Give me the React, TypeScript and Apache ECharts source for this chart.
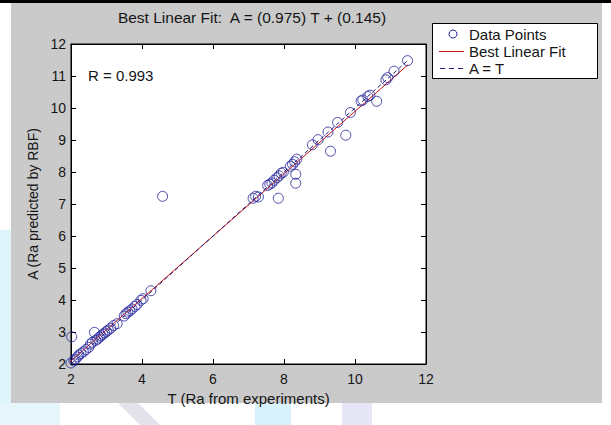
import React, { useEffect, useRef } from "react";
import * as echarts from "echarts";

const titleText = "Best Linear Fit:  A = (0.975) T + (0.145)";
const xName = "T (Ra from experiments)";
const yName = "A (Ra predicted by RBF)";
const rText = "R = 0.993";
const legendNames = ["Data Points", "Best Linear Fit", "A = T"];

const xTicks = { min: 2, max: 12, interval: 2 };
const yTicks = { min: 2, max: 12, interval: 1 };

// [T, A]
const dataPoints: number[][] = [
  [2.0, 2.03], [2.02, 2.85], [2.08, 2.1], [2.12, 2.15], [2.18, 2.22], [2.22, 2.28],
  [2.28, 2.33], [2.35, 2.38], [2.42, 2.45], [2.5, 2.52], [2.55, 2.62], [2.6, 2.68],
  [2.66, 2.99], [2.7, 2.74], [2.75, 2.78], [2.8, 2.84], [2.85, 2.88], [2.9, 2.93],
  [2.95, 2.97], [3.0, 3.02], [3.05, 3.06], [3.12, 3.12], [3.2, 3.2], [3.3, 3.26],
  [3.5, 3.5], [3.55, 3.57], [3.6, 3.62], [3.66, 3.66], [3.72, 3.72], [3.8, 3.8],
  [3.86, 3.86], [3.97, 3.99], [4.03, 4.04], [4.25, 4.29], [4.58, 7.24],
  [7.13, 7.18], [7.2, 7.24], [7.28, 7.22], [7.54, 7.58], [7.6, 7.62], [7.66, 7.66],
  [7.72, 7.74], [7.8, 7.82], [7.86, 7.88], [7.92, 7.96], [7.98, 7.99], [7.84, 7.18],
  [8.18, 8.18], [8.24, 8.24], [8.3, 8.32], [8.36, 8.4], [8.33, 7.93], [8.33, 7.65],
  [8.8, 8.85], [8.96, 9.01], [9.24, 9.25], [9.31, 8.65], [9.51, 9.55], [9.74, 9.15],
  [9.87, 9.86], [10.17, 10.22], [10.22, 10.25], [10.36, 10.36], [10.42, 10.4],
  [10.61, 10.21], [10.87, 10.88], [10.92, 10.95], [11.1, 11.15], [11.48, 11.48],
];

const fitLine: number[][] = [[2, 2.095], [11.5, 11.358]];
const identityLine: number[][] = [[2, 2], [11.5, 11.5]];

const FONT = "'Liberation Sans', Arial, sans-serif";
const TXT = "#151515";
const MARK = "#22229a";
const RED = "#d01010";
const DASH = "#1a1a7a";

export default function App() {
  const ref = useRef<HTMLDivElement>(null);
  useEffect(() => {
    if (!ref.current) return;
    const chart = echarts.init(ref.current, undefined, { renderer: "svg" });
    const axisCommon = {
      axisLine: { show: true, lineStyle: { color: "#000", width: 1 } },
      axisTick: { show: true, inside: true, length: 5, lineStyle: { color: "#000" } },
      splitLine: { show: false },
    };
    const legendText = (t: string, y: number) => ({
      type: "text",
      z: 21,
      silent: true,
      x: 469,
      y,
      style: { text: t, fontSize: 15, fill: TXT, fontFamily: FONT, verticalAlign: "middle", align: "left" },
    });
    chart.setOption({
      animation: false,
      backgroundColor: "#ffffff",
      textStyle: { fontFamily: FONT },
      title: {
        text: titleText,
        left: 247,
        top: 4,
        textAlign: "center",
        textStyle: { fontSize: 15.5, fontWeight: "normal", color: TXT, fontFamily: FONT },
      },
      grid: {
        left: 71,
        right: 185,
        top: 44,
        bottom: 61,
        show: true,
        backgroundColor: "#ffffff",
        borderColor: "#000",
        borderWidth: 1,
      },
      xAxis: [
        {
          type: "value",
          ...xTicks,
          position: "bottom",
          name: xName,
          nameLocation: "middle",
          nameGap: 25,
          nameTextStyle: { fontSize: 15, color: TXT, fontFamily: FONT },
          axisLabel: { fontSize: 14, color: TXT, margin: 8, fontFamily: FONT },
          ...axisCommon,
        },
        {
          type: "value",
          ...xTicks,
          position: "top",
          axisLabel: { show: false },
          ...axisCommon,
        },
      ],
      yAxis: [
        {
          type: "value",
          ...yTicks,
          position: "left",
          name: yName,
          nameLocation: "middle",
          nameGap: 24,
          nameTextStyle: { fontSize: 14, color: TXT, fontFamily: FONT },
          axisLabel: { fontSize: 14, color: TXT, margin: 5, fontFamily: FONT },
          ...axisCommon,
        },
        {
          type: "value",
          ...yTicks,
          position: "right",
          axisLabel: { show: false },
          ...axisCommon,
        },
      ],
      series: [
        {
          name: legendNames[1],
          type: "line",
          data: fitLine,
          showSymbol: false,
          symbol: "none",
          lineStyle: { color: RED, width: 1 },
          itemStyle: { color: RED },
          z: 2,
        },
        {
          name: legendNames[2],
          type: "line",
          data: identityLine,
          showSymbol: false,
          symbol: "none",
          lineStyle: { color: DASH, width: 1, type: [4, 3] },
          itemStyle: { color: DASH },
          z: 3,
        },
        {
          name: legendNames[0],
          type: "scatter",
          data: dataPoints,
          symbol: "circle",
          symbolSize: 10,
          itemStyle: { color: "rgba(0,0,0,0)", borderColor: MARK, borderWidth: 1 },
          z: 4,
        },
      ],
      graphic: [
        { type: "rect", z: -100, silent: true, shape: { x: 0, y: 0, width: 611, height: 3 }, style: { fill: "#000" } },
        { type: "rect", z: -100, silent: true, shape: { x: 0, y: 230, width: 11, height: 195 }, style: { fill: "#dff3fa" } },
        { type: "rect", z: -100, silent: true, shape: { x: 0, y: 403, width: 60, height: 22 }, style: { fill: "#e6f6fb" } },
        { type: "polygon", z: -100, silent: true, shape: { points: [[118, 403], [138, 403], [160, 425], [140, 425]] }, style: { fill: "#e2e2ea" } },
        { type: "rect", z: -100, silent: true, shape: { x: 255, y: 403, width: 36, height: 22 }, style: { fill: "#d9f1fb" } },
        { type: "rect", z: -100, silent: true, shape: { x: 342, y: 403, width: 30, height: 22 }, style: { fill: "#e6e6f6" } },
        { type: "rect", z: -99, silent: true, shape: { x: 11, y: 3, width: 591, height: 400 }, style: { fill: "#cacaca" } },
        {
          type: "text",
          z: 10,
          silent: true,
          x: 88,
          y: 75,
          style: { text: rText, fontSize: 15, fill: TXT, fontFamily: FONT, verticalAlign: "middle", align: "left" },
        },
        // legend box
        { type: "rect", z: 20, silent: true, shape: { x: 432.5, y: 23.5, width: 165, height: 55 }, style: { fill: "#fff", stroke: "#000", lineWidth: 1 } },
        { type: "circle", z: 21, silent: true, shape: { cx: 453, cy: 34, r: 4 }, style: { fill: "none", stroke: MARK, lineWidth: 1 } },
        { type: "line", z: 21, silent: true, shape: { x1: 439, y1: 51.5, x2: 464, y2: 51.5 }, style: { stroke: RED, lineWidth: 1 } },
        { type: "line", z: 21, silent: true, shape: { x1: 440, y1: 68.5, x2: 464, y2: 68.5 }, style: { stroke: DASH, lineWidth: 1, lineDash: [5, 4] } },
        legendText(legendNames[0], 34),
        legendText(legendNames[1], 51),
        legendText(legendNames[2], 68),
      ],
    });
    return () => chart.dispose();
  }, []);
  return (
    <div
      ref={ref}
      style={{ position: "fixed", left: 0, top: 0, width: 611, height: 425 }}
    />
  );
}
